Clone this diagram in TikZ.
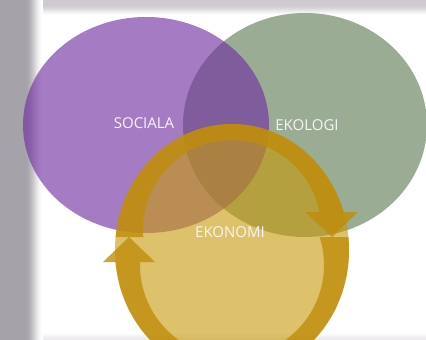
\documentclass[tikz,border=0pt]{standalone}
\usepackage{fontspec}
\newfontfamily\vennfont{Open Sans}

\definecolor{stripgray}{RGB}{166,162,169}
\definecolor{topgray}{RGB}{206,202,207}
\definecolor{socialpurple}{RGB}{111,43,160}
\definecolor{ecogreen}{RGB}{154,172,148}
\definecolor{discgold}{RGB}{199,153,9}
\definecolor{bandgold}{RGB}{192,140,10}
\definecolor{vennwhite}{RGB}{246,244,246}

\tikzset{
    disc/.style={fill=discgold,fill opacity=0.6},
    band/.style={fill=bandgold,fill opacity=0.78},
    venntext/.style={text=vennwhite,font=\vennfont\fontsize{15}{18}\selectfont}
}

\begin{document}
\begin{tikzpicture}[x=1pt,y=-1pt]

    % パラメータの定義
    \pgfmathsetmacro{\W}{426}
    \pgfmathsetmacro{\H}{340}
    \pgfmathsetmacro{\sx}{123}
    \pgfmathsetmacro{\sy}{108}
    \pgfmathsetmacro{\ex}{122}
    \pgfmathsetmacro{\ey}{112}
    \pgfmathsetmacro{\kx}{117}
    \pgfmathsetmacro{\ky}{126}
    \pgfmathsetmacro{\ra}{89}
    \pgfmathsetmacro{\rb}{92}
    \pgfmathsetmacro{\cut}{237}

    \coordinate (S) at (146,125);
    \coordinate (E) at (305,125);
    \coordinate (K) at (232,250);
    \coordinate (KA) at (232,229);
    \coordinate (KB) at (232,265);
    \coordinate (A1) at (305,212);
    \coordinate (A2) at (358,212);
    \coordinate (A3) at (332,\cut);
    \coordinate (B1) at (103,262);
    \coordinate (B2) at (155,262);
    \coordinate (B3) at (129,\cut);

    \useasboundingbox (0,0) rectangle (\W,\H);
    \clip (0,0) rectangle (\W,\H);

    % 背景を描画
    \fill[white] (0,0) rectangle (\W,\H);
    \fill[topgray] (0,0) rectangle (\W,5);
    \foreach \i in {1,...,11} {
        \pgfmathtruncatemacro{\lv}{50*(1+cos(180*\i/12))}
        \fill[topgray!\lv] (0,4+\i) rectangle (\W,5+\i);
    }
    \foreach \i in {1,...,8} {
        \pgfmathtruncatemacro{\lv}{20*(1-cos(180*\i/9))}
        \fill[topgray!\lv] (0,331+\i) rectangle (\W,332+\i);
    }
    \fill[stripgray] (0,0) rectangle (26,\H);
    \foreach \i in {1,...,17} {
        \pgfmathtruncatemacro{\lv}{50*(1+cos(180*\i/18))}
        \fill[stripgray!\lv] (25+\i,0) rectangle (26+\i,\H);
    }

    % 楕円を描画
    \fill[ecogreen] (E) ellipse [x radius=\ex,y radius=\ey];
    \fill[socialpurple,fill opacity=0.62] (S) ellipse [x radius=\sx,y radius=\sy];

    % 円と矢印
    \fill[disc] (K) ellipse [x radius=\kx,y radius=\ky];
    \begin{scope}
        \clip (0,0) -- (\W,0) -- (\W,212) -- (232,212) -- (232,\cut) -- (0,\cut) -- cycle;
        \fill[band,even odd rule] (K) ellipse [x radius=\kx,y radius=\ky] (KA) circle [radius=\ra];
    \end{scope}
    \begin{scope}
        \clip (0,262) -- (232,262) -- (232,\cut) -- (\W,\cut) -- (\W,400) -- (0,400) -- cycle;
        \fill[band,even odd rule] (K) ellipse [x radius=\kx,y radius=\ky] (KB) circle [radius=\rb];
    \end{scope}
    \fill[band] (A1) -- (A2) -- (A3) -- cycle;
    \fill[band] (B1) -- (B2) -- (B3) -- cycle;

    % ラベル
    \node[venntext] (sociala) at (144,123) {SOCIALA};
    \node[venntext] (ekologi) at (307,125) {EKOLOGI};
    \node[venntext] (ekonomi) at (230,232) {EKONOMI};

\end{tikzpicture}
\end{document}
